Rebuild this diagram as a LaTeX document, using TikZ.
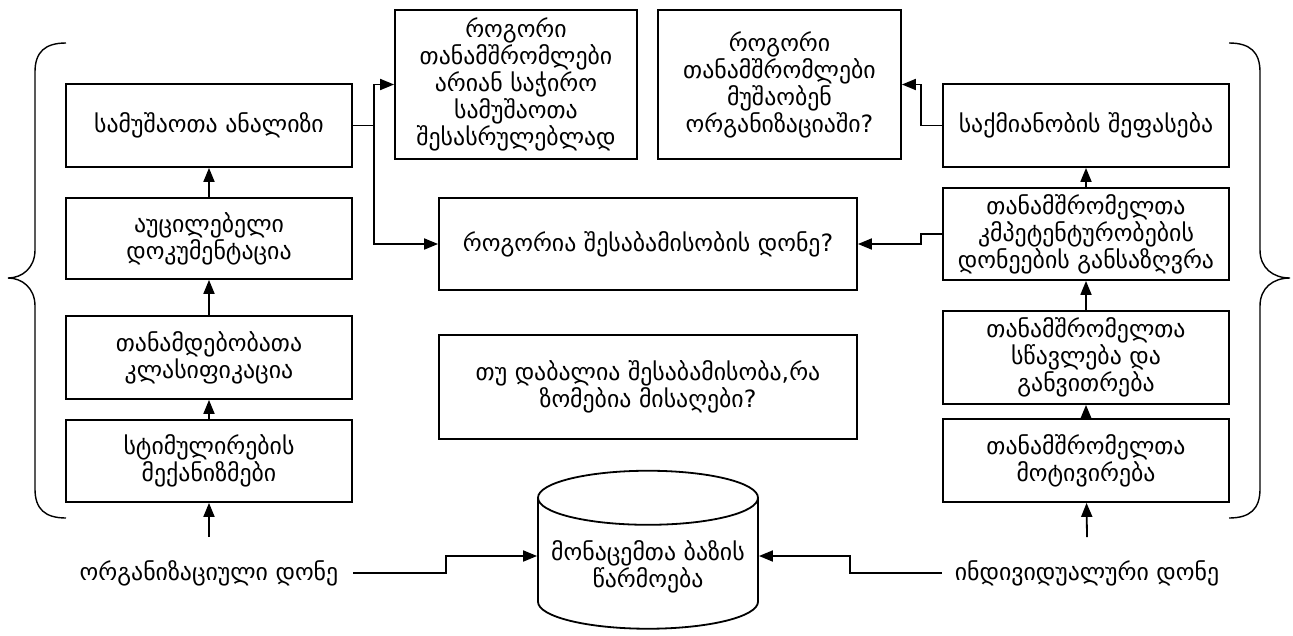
\documentclass[tikz,border=0pt]{standalone}
\usepackage{fontspec}
\setmainfont{DejaVu Sans}
\usetikzlibrary{arrows.meta,shapes.geometric}

\begin{document}
\begin{tikzpicture}[x=1pt, y=-1pt, line width=1.8pt, >={Triangle[length=14pt,width=11pt]},
  every node/.style={font=\fontsize{23.8}{27}\selectfont, align=center},
  box/.style={draw, rectangle, minimum width=286pt, minimum height=83pt}]
\useasboundingbox (0,0) rectangle (1293,635);

% organizational side
\node[box] (analysis) at (209,125.5) {სამუშაოთა ანალიზი};
\node[box, minimum height=81pt] (docs) at (209,238.5) {აუცილებელი\\დოკუმენტაცია};
\node[box] (classes) at (209,357.5) {თანამდებობათა\\კლასიფიკაცია};
\node[box, minimum height=82pt] (stimuli) at (209,461) {სტიმულირების\\მექანიზმები};
\node[minimum height=70pt, inner xsep=14pt] (orglevel) at (209,573) {ორგანიზაციული დონე};

% questions
\node[box, minimum width=242pt, minimum height=149pt] (needed) at (516,84.5) {როგორი\\თანამშრომლები\\არიან საჭირო\\სამუშაოთა\\შესასრულებლად};
\node[box, minimum width=243pt, minimum height=149pt] (working) at (779.5,84.5) {როგორი\\თანამშრომლები\\მუშაობენ\\ორგანიზაციაში?};
\node[box, minimum width=418pt, minimum height=92pt] (match) at (648,244) {როგორია შესაბამისობის დონე?};
\node[box, minimum width=418pt, minimum height=104pt] (measures) at (648,387) {თუ დაბალია შესაბამისობა,რა\\ზომებია მისაღები?};
\node[draw, cylinder, shape border rotate=90, aspect=0.27, minimum width=220pt, minimum height=158pt] (db) at (648,567) {მონაცემთა ბაზის\\წარმოება};

% individual side
\node[box] (evaluation) at (1086,125.5) {საქმიანობის შეფასება};
\node[box, minimum height=92pt] (competence) at (1086,234) {თანამშრომელთა\\კმპეტენტურობების\\დონეების განსაზღვრა};
\node[box, minimum height=93pt] (training) at (1086,357.5) {თანამშრომელთა\\სწავლება და\\განვითრება};
\node[box] (motivation) at (1086,460.5) {თანამშრომელთა\\მოტივირება};
\node[minimum height=70pt, inner xsep=12pt] (indlevel) at (1087,573) {ინდივიდუალური დონე};

\draw[->] (orglevel) -- (stimuli);
\draw[->] (stimuli) -- (classes);
\draw[->] (classes) -- (docs);
\draw[->] (docs) -- (analysis);
\draw[->] (indlevel.north) -- (motivation);
\draw[->] (motivation) -- (training);
\draw[->] (training) -- (competence);
\draw[->] (competence) -- (evaluation);

\draw[->] (analysis.east) -- ++(21,0) |- (needed.west);
\draw[->] (analysis.east) -- ++(21,0) |- (match.west);
\draw[->] (evaluation.west) -- ++(-21,0) |- (working.east);
\draw[->] (competence.west) -- ++(-21,0) |- (match.east);
\draw[->] (orglevel.east) -- ++(93,0) |- ([yshift=11pt]db.west);
\draw[->] (indlevel.west) -- ++(-92,0) |- ([yshift=11pt]db.east);

% braces
\draw[line width=1.4pt] (66,43) .. controls (45,43) and (35,52) .. (35,72) -- (35,250)
  .. controls (35,268) and (22,278) .. (8,278) .. controls (22,278) and (35,288) .. (35,306)
  -- (35,489) .. controls (35,509) and (45,518) .. (66,518);
\draw[line width=1.4pt] (1229,43) .. controls (1250,43) and (1260,52) .. (1260,72) -- (1260,250)
  .. controls (1260,268) and (1273,278) .. (1290,278) .. controls (1273,278) and (1260,288) .. (1260,306)
  -- (1260,489) .. controls (1260,509) and (1250,518) .. (1229,518);
\end{tikzpicture}
\end{document}
